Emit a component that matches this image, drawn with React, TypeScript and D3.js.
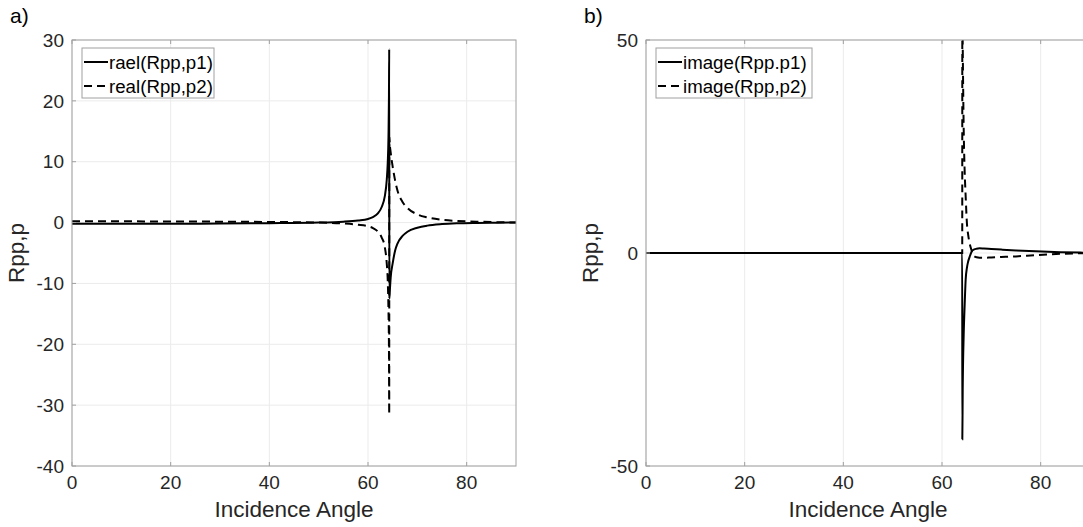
// Rpp,p real / image parts vs incidence angle
import React from "react";
import { scaleLinear, line, curveMonotoneX } from "d3";

const width = 1083;
const height = 527;

const xTicks = [0, 20, 40, 60, 80];

// panel a) real part
const angleA = [
    0, 10, 20, 30, 40, 50, 55, 58, 60, 61, 62, 62.8, 63.4, 63.8, 64.0, 64.15,
    64.25, 64.3, 64.32, 64.4, 64.6, 65.0, 65.5, 66.0, 67.0, 68.0, 70.0, 72.0,
    75.0, 78.0, 82.0, 86.0, 90.0,
];
const realP1 = [
    -0.2, -0.2, -0.2, -0.15, -0.1, 0.0, 0.15, 0.35, 0.6, 0.9, 1.5, 2.6, 4.3,
    7.0, 9.8, 14, 21, 28.5, -12.5, -11.5, -9.0, -6.7, -4.6, -3.4, -2.2, -1.5,
    -0.85, -0.5, -0.25, -0.12, -0.05, -0.02, 0,
];
const realP2 = [
    0.2, 0.2, 0.18, 0.15, 0.1, 0.0, -0.15, -0.35, -0.6, -0.9, -1.5, -2.5, -4.0,
    -6.7, -9.5, -14.4, -21, -31.5, 14.1, 13.0, 11.5, 9.2, 6.9, 5.2, 3.4, 2.4,
    1.35, 0.85, 0.45, 0.28, 0.15, 0.07, 0,
];
const yTicksA = [30, 20, 10, 0, -10, -20, -30, -40];

// panel b) image part
const angleB = [
    0, 20, 40, 60, 63, 64.0, 64.1, 64.12, 64.2, 64.4, 64.6, 64.8, 65.05, 65.3,
    65.6, 66.0, 66.3, 67.0, 67.6, 68.5, 70, 72, 75, 79, 84, 88, 90,
];
const imageP1 = [
    0, 0, 0, 0, 0, 0, 0, -43.7, -32, -19, -12, -6.2, -3.5, -2.0, -0.9, 0.3,
    0.7, 1.0, 1.1, 1.05, 0.95, 0.8, 0.6, 0.4, 0.2, 0.1, 0.05,
];
const imageP2 = [
    0, 0, 0, 0, 0, 0, 0, 60, 49, 29, 19, 13.2, 7.0, 4.3, 2.3, 0.6, -0.5, -1.0,
    -1.1, -1.1, -1.05, -0.95, -0.8, -0.5, -0.2, -0.05, 0,
];
const yTicksB = [50, 0, -50];

const font = "'Liberation Sans', Arial, Helvetica, sans-serif";

const Panel = ({ id, label, left, yDomain, yTicks, angles, solid, dashed, names }) => {
    const top = 40;
    const bottom = 466;
    const plotW = 444;
    const xScale = scaleLinear().domain([0, 90]).range([left, left + plotW]);
    const yScale = scaleLinear().domain(yDomain).range([bottom, top]);
    const mk = line()
        .x((d) => xScale(d[0]))
        .y((d) => yScale(d[1]))
        .curve(curveMonotoneX);
    const solidPath = mk(angles.map((a, i) => [a, solid[i]]));
    const dashedPath = mk(angles.map((a, i) => [a, dashed[i]]));
    const right = left + plotW;
    const lx = left + 10;

    return (
        <g fontFamily={font}>
            <defs>
                <clipPath id={id}>
                    <rect x={left} y={top} width={plotW} height={bottom - top} />
                </clipPath>
            </defs>
            {xTicks.map((t) => (
                <line key={"gx" + t} x1={xScale(t)} x2={xScale(t)} y1={top} y2={bottom} stroke="#ebebeb" />
            ))}
            {yTicks.map((t) => (
                <line key={"gy" + t} x1={left} x2={right} y1={yScale(t)} y2={yScale(t)} stroke="#ebebeb" />
            ))}
            <g clipPath={`url(#${id})`}>
                <path d={dashedPath} fill="none" stroke="#000" strokeWidth={2} strokeDasharray="8,5" />
                <path d={solidPath} fill="none" stroke="#000" strokeWidth={2} />
            </g>
            <rect x={left} y={top} width={plotW} height={bottom - top} fill="none" stroke="#a0a0a0" />
            {xTicks.map((t) => (
                <g key={"tx" + t}>
                    <line x1={xScale(t)} x2={xScale(t)} y1={bottom} y2={bottom - 4} stroke="#a0a0a0" />
                    <line x1={xScale(t)} x2={xScale(t)} y1={top} y2={top + 4} stroke="#a0a0a0" />
                    <text x={xScale(t)} y={bottom + 23} textAnchor="middle" fontSize={19} fill="#262626">
                        {t}
                    </text>
                </g>
            ))}
            {yTicks.map((t) => (
                <g key={"ty" + t}>
                    <line x1={left} x2={left + 4} y1={yScale(t)} y2={yScale(t)} stroke="#a0a0a0" />
                    <text x={left - 8} y={yScale(t)} dy="0.35em" textAnchor="end" fontSize={19} fill="#262626">
                        {t}
                    </text>
                </g>
            ))}
            <text x={left + plotW / 2} y={bottom + 51} textAnchor="middle" fontSize={22.5} fill="#262626">
                Incidence Angle
            </text>
            <text
                transform={`translate(${left - 48},${(top + bottom) / 2}) rotate(-90)`}
                textAnchor="middle"
                fontSize={22.5}
                fill="#262626"
            >
                Rpp,p
            </text>
            <text x={left - 62} y={23} fontSize={21} fill="#000">
                {label}
            </text>
            <rect
                x={lx}
                y={48}
                width={names[0].length > 12 ? 156 : 132}
                height={50}
                fill="#fff"
                stroke="#a0a0a0"
            />
            <line x1={lx + 2} x2={lx + 26} y1={62} y2={62} stroke="#000" strokeWidth={2} />
            <line x1={lx + 2} x2={lx + 26} y1={86} y2={86} stroke="#000" strokeWidth={2} strokeDasharray="8,5" />
            <text x={lx + 27} y={62} dy="0.35em" fontSize={18.7} fill="#000">
                {names[0]}
            </text>
            <text x={lx + 27} y={86} dy="0.35em" fontSize={18.7} fill="#000">
                {names[1]}
            </text>
        </g>
    );
};

const App = () => {
    return (
        <svg
            width={width}
            height={height}
            style={{ position: "absolute", left: 0, top: 0, background: "#fff" }}
        >
            <Panel
                id="clipA"
                label="a)"
                left={72}
                yDomain={[-40, 30]}
                yTicks={yTicksA}
                angles={angleA}
                solid={realP1}
                dashed={realP2}
                names={["rael(Rpp,p1)", "real(Rpp,p2)"]}
            />
            <Panel
                id="clipB"
                label="b)"
                left={646}
                yDomain={[-50, 50]}
                yTicks={yTicksB}
                angles={angleB}
                solid={imageP1}
                dashed={imageP2}
                names={["image(Rpp.p1)", "image(Rpp,p2)"]}
            />
        </svg>
    );
};

export default App;
